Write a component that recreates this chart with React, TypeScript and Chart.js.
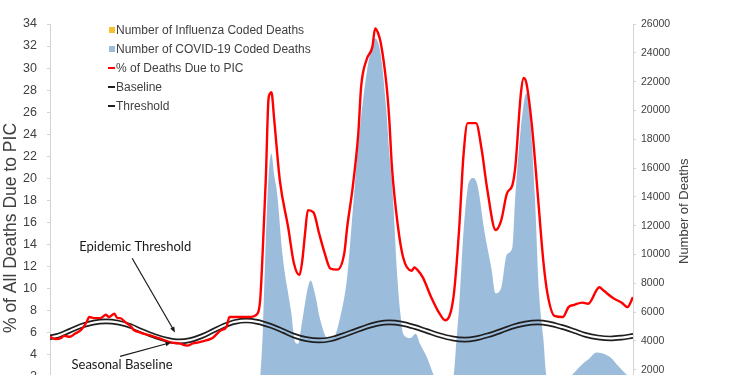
import React, { useEffect, useRef } from "react";
import { Chart, registerables } from "chart.js";

Chart.register(...registerables);

const FONT = "'Liberation Sans', Arial, sans-serif";
const NOTE_FONT = "Lato, 'Open Sans', sans-serif";

const RED = "#ff0000";
const COVID_BLUE = "#9cbcdc";
const FLU_YELLOW = "#f7c031";
const BAND = "#1f1f1f";
const TEXT = "#404040";

// x values are week indexes from the first plotted week (hidden x axis)
const picWeeks = [0, 2, 4, 5, 7, 9, 11, 13, 14, 16, 18, 20, 21, 23, 24, 25, 27, 29, 30, 32, 36, 39, 43, 46, 49, 51, 53, 56, 58, 61, 63, 64, 68, 71, 74, 75, 76, 77, 78, 79, 80, 82, 85, 87, 89, 90, 91, 92, 94, 96, 98, 100, 102.5, 105, 106, 108, 110, 111, 113, 115, 116, 117, 118, 120, 121, 122, 124, 126, 129, 130, 131, 133, 136, 139, 141, 144, 146, 147.5, 149, 152, 154, 156, 159, 161, 163, 165, 166, 168, 169, 170, 172, 174, 176, 177.5, 180, 183, 185, 187, 190, 192, 196, 197.5, 201, 204, 206, 208];
const picPercent = [5.6, 5.4, 5.5, 5.7, 5.6, 5.9, 6.2, 6.9, 7.4, 7.3, 7.3, 7.6, 7.4, 7.7, 7.3, 7.3, 6.9, 6.5, 6.2, 6.0, 5.7, 5.45, 5.1, 5.0, 4.8, 5.0, 5.1, 5.3, 5.5, 6.2, 6.5, 7.4, 7.4, 7.4, 7.7, 9.0, 14, 20, 27.3, 27.8, 25.3, 19.8, 15.5, 12.3, 11.2, 12.5, 15, 17.1, 16.9, 15, 13.2, 11.8, 11.7, 13.2, 15.5, 19.2, 24.1, 28.3, 30.8, 31.9, 33.6, 33.2, 32.3, 28.6, 25.5, 21, 15.9, 12.8, 11.6, 11.9, 11.7, 11, 9.2, 7.7, 7.1, 9.3, 15.5, 22, 25, 25, 22.6, 19, 15.3, 16.2, 18.6, 19.4, 21, 27.7, 29.1, 28.6, 24.6, 18.6, 12.5, 9.5, 7.5, 7.4, 8.3, 8.5, 8.7, 8.6, 10.1, 9.8, 9.1, 8.7, 8.3, 9.2];

const covidWeeks = [0, 72.5, 74, 75, 76, 77, 78, 79, 80, 81, 83, 86, 87.5, 88.5, 90, 92, 93, 94.5, 96.5, 99, 101, 103.5, 106, 108, 110, 112, 114, 116, 118, 120, 121, 122, 124, 125, 126, 128.5, 130.5, 132, 134.5, 137, 139, 142, 144, 145, 146, 147.5, 149, 150, 151, 152.5, 155, 157.5, 159, 161, 163, 165, 166, 168, 170, 171, 173, 174.5, 176, 177, 178, 181, 184, 186, 190, 192, 195, 197, 200, 203, 206, 208];
const covidDeaths = [0, 0, 300, 1500, 5000, 11000, 15500, 17000, 15500, 14300, 9900, 6100, 3900, 3800, 5400, 7700, 8200, 7300, 5400, 4200, 4200, 5600, 8400, 13000, 17700, 21200, 23800, 25000, 23900, 20000, 17200, 15100, 8200, 5900, 4500, 4200, 4500, 3800, 2850, 1600, 1100, 1200, 1600, 4000, 6500, 11500, 14600, 15200, 15300, 14800, 11600, 9000, 7300, 7700, 10000, 10500, 14000, 18800, 21200, 20200, 14000, 7300, 4200, 1700, 1200, 1100, 1300, 1600, 2400, 2700, 3200, 3150, 2850, 2200, 1600, 1300];

const fluWeeks = [0, 8, 14, 20, 24, 30, 36, 44, 56, 64, 70, 74, 78, 82, 90, 100, 120, 150, 170, 180, 190, 200, 208];
const fluDeaths = [50, 150, 350, 600, 550, 300, 120, 40, 150, 500, 900, 1000, 700, 300, 60, 20, 10, 15, 60, 100, 60, 150, 450];

const bandWeeks = [0, 3, 7, 11, 15.5, 20, 24.5, 29, 33, 37.5, 42, 46, 50, 54, 58, 62, 66, 70, 74, 78.5, 83, 87, 91.5, 96, 100, 104, 108.5, 113, 117, 121, 125.5, 130, 134.5, 139, 143.5, 148, 152, 156.5, 161, 165, 169.5, 174, 178, 182.5, 187, 191, 195.5, 200, 204, 208];
const baselinePercent = [5.37, 5.54, 5.96, 6.40, 6.71, 6.82, 6.70, 6.38, 5.92, 5.47, 5.14, 5.00, 5.12, 5.46, 5.94, 6.42, 6.77, 6.90, 6.78, 6.44, 5.98, 5.53, 5.21, 5.09, 5.20, 5.51, 5.92, 6.34, 6.62, 6.73, 6.62, 6.32, 5.94, 5.56, 5.28, 5.17, 5.28, 5.58, 5.96, 6.34, 6.62, 6.73, 6.62, 6.32, 5.95, 5.60, 5.36, 5.27, 5.35, 5.50];
const thresholdPercent = [5.73, 5.90, 6.32, 6.76, 7.07, 7.18, 7.06, 6.74, 6.28, 5.83, 5.50, 5.36, 5.48, 5.82, 6.30, 6.78, 7.13, 7.26, 7.14, 6.80, 6.34, 5.89, 5.57, 5.45, 5.56, 5.87, 6.28, 6.70, 6.98, 7.09, 6.98, 6.68, 6.30, 5.92, 5.64, 5.53, 5.64, 5.94, 6.32, 6.70, 6.98, 7.09, 6.98, 6.68, 6.31, 5.96, 5.72, 5.63, 5.71, 5.86];

const leftTitle = "% of All Deaths Due to PIC";
const rightTitle = "Number of Deaths";
const thresholdNote = "Epidemic Threshold";
const baselineNote = "Seasonal Baseline";

const toPoints = (xs: number[], ys: number[]) => xs.map((x, i) => ({ x, y: ys[i] }));

function arrow(ctx: CanvasRenderingContext2D, x1: number, y1: number, x2: number, y2: number) {
  const ang = Math.atan2(y2 - y1, x2 - x1);
  const head = 6;
  ctx.beginPath();
  ctx.moveTo(x1, y1);
  ctx.lineTo(x2 - Math.cos(ang) * head * 0.8, y2 - Math.sin(ang) * head * 0.8);
  ctx.stroke();
  ctx.beginPath();
  ctx.moveTo(x2, y2);
  ctx.lineTo(x2 - head * Math.cos(ang - 0.4), y2 - head * Math.sin(ang - 0.4));
  ctx.lineTo(x2 - head * Math.cos(ang + 0.4), y2 - head * Math.sin(ang + 0.4));
  ctx.closePath();
  ctx.fill();
}

const overlayPlugin = {
  id: "overlay",
  afterDraw(chart: any) {
    const { ctx, scales, chartArea } = chart;
    const xs = scales.x;
    const ys = scales.y;
    ctx.save();

    // annotations anchored on data coordinates
    ctx.fillStyle = "#1a1a1a";
    ctx.strokeStyle = "#1a1a1a";
    ctx.lineWidth = 1.2;
    ctx.font = `13px ${NOTE_FONT}`;
    ctx.textAlign = "center";
    ctx.textBaseline = "middle";
    ctx.fillText(thresholdNote, xs.getPixelForValue(30.4), ys.getPixelForValue(13.73));
    arrow(ctx, xs.getPixelForValue(29.3), ys.getPixelForValue(12.73), xs.getPixelForValue(44.6), ys.getPixelForValue(6.0));
    ctx.fillText(baselineNote, xs.getPixelForValue(25.7), ys.getPixelForValue(3.1));
    arrow(ctx, xs.getPixelForValue(25), ys.getPixelForValue(3.82), xs.getPixelForValue(43.2), ys.getPixelForValue(5.09));

    // legend
    const items = chart.data.datasets;
    ctx.font = `12px ${FONT}`;
    ctx.textAlign = "left";
    items.forEach((ds: any, i: number) => {
      const y = chartArea.top + 6 + i * 19;
      const x = chartArea.left + 59;
      if (ds.legendKind === "box") {
        ctx.fillStyle = ds.backgroundColor;
        ctx.fillRect(x, y - 3, 6, 6);
      } else {
        ctx.strokeStyle = ds.borderColor;
        ctx.lineWidth = 2;
        ctx.beginPath();
        ctx.moveTo(x - 1, y);
        ctx.lineTo(x + 6, y);
        ctx.stroke();
      }
      ctx.fillStyle = TEXT;
      ctx.fillText(ds.label, x + 7, y + 0.5);
    });

    // axis titles (both read bottom to top)
    ctx.fillStyle = TEXT;
    ctx.textAlign = "center";
    ctx.textBaseline = "middle";
    ctx.save();
    ctx.translate(11, 228);
    ctx.rotate(-Math.PI / 2);
    ctx.font = `17.5px ${FONT}`;
    ctx.fillText(leftTitle, 0, 0);
    ctx.restore();
    ctx.save();
    ctx.translate(684, (chartArea.top + chartArea.bottom) / 2);
    ctx.rotate(-Math.PI / 2);
    ctx.font = `13px ${FONT}`;
    ctx.fillText(rightTitle, 0, 0);
    ctx.restore();

    ctx.restore();
  },
};

export default function App() {
  const ref = useRef<HTMLCanvasElement | null>(null);

  useEffect(() => {
    if (!ref.current) return;
    const chart = new Chart(ref.current, {
      type: "line",
      data: {
        datasets: [
          {
            label: "Number of Influenza Coded Deaths",
            legendKind: "box",
            data: toPoints(fluWeeks, fluDeaths),
            yAxisID: "y1",
            backgroundColor: FLU_YELLOW,
            borderColor: FLU_YELLOW,
            borderWidth: 0,
            fill: "origin",
            pointRadius: 0,
            cubicInterpolationMode: "monotone",
            order: 3,
          },
          {
            label: "Number of COVID-19 Coded Deaths",
            legendKind: "box",
            data: toPoints(covidWeeks, covidDeaths),
            yAxisID: "y1",
            backgroundColor: COVID_BLUE,
            borderColor: COVID_BLUE,
            borderWidth: 0,
            fill: "origin",
            pointRadius: 0,
            cubicInterpolationMode: "monotone",
            order: 4,
          },
          {
            label: "% of Deaths Due to PIC",
            legendKind: "line",
            data: toPoints(picWeeks, picPercent),
            yAxisID: "y",
            borderColor: RED,
            backgroundColor: RED,
            borderWidth: 2.4,
            fill: false,
            pointRadius: 0,
            cubicInterpolationMode: "monotone",
            order: 0,
          },
          {
            label: "Baseline",
            legendKind: "line",
            data: toPoints(bandWeeks, baselinePercent),
            yAxisID: "y",
            borderColor: BAND,
            backgroundColor: BAND,
            borderWidth: 1.7,
            fill: false,
            pointRadius: 0,
            cubicInterpolationMode: "monotone",
            order: 1,
          },
          {
            label: "Threshold",
            legendKind: "line",
            data: toPoints(bandWeeks, thresholdPercent),
            yAxisID: "y",
            borderColor: BAND,
            backgroundColor: BAND,
            borderWidth: 1.7,
            fill: false,
            pointRadius: 0,
            cubicInterpolationMode: "monotone",
            order: 1,
          },
        ] as any,
      },
      options: {
        responsive: false,
        animation: false,
        events: [],
        layout: { padding: { top: 24, bottom: 2, left: 0, right: 0 } },
        plugins: { legend: { display: false }, tooltip: { enabled: false } },
        scales: {
          x: { type: "linear", min: 0, max: 208, display: false },
          y: {
            position: "left",
            min: 0,
            max: 34,
            ticks: { stepSize: 2, color: TEXT, font: { family: FONT, size: 12.5 }, padding: 10 },
            grid: { drawOnChartArea: false, tickLength: 3, color: "#d4d4d4" },
            border: { color: "#d4d4d4" },
            afterFit: (s: any) => {
              s.width = 50;
            },
          },
          y1: {
            position: "right",
            min: 0,
            max: 26000,
            ticks: {
              stepSize: 2000,
              color: TEXT,
              font: { family: FONT, size: 10.5 },
              padding: 5,
              callback: (v: any) => String(v),
            },
            grid: { drawOnChartArea: false, tickLength: 3, color: "#d4d4d4" },
            border: { color: "#d4d4d4" },
            afterFit: (s: any) => {
              s.width = 117;
            },
          },
        },
      },
      plugins: [overlayPlugin],
    });
    return () => chart.destroy();
  }, []);

  return (
    <div
      style={{
        position: "fixed",
        left: 0,
        top: 0,
        width: 750,
        height: 375,
        overflow: "hidden",
        background: "#fff",
      }}
    >
      <canvas ref={ref} width={750} height={416} style={{ display: "block" }} />
    </div>
  );
}
